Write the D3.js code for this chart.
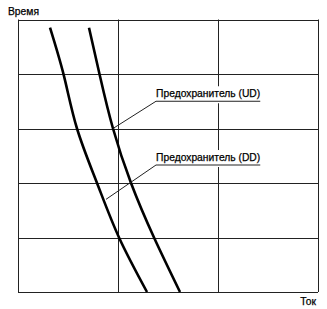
<!DOCTYPE html>
<html lang="en">
<head>
	<meta charset="UTF-8">
	<script src="https://d3js.org/d3.v7.min.js"></script>
	<style>
		body { margin: 0; background: white; }
		svg { display: block; }
		text { font-family: "Liberation Sans", Arial, sans-serif; font-size: 10.3px; fill: #000; stroke: #000; stroke-width: 0.25px; }
	</style>
</head>
<body>
	<div id="chart"></div>
	<script>
		// grid: 3 current columns, 5 time rows
		const xTicks = [0, 1, 2, 3];
		const yTicks = [0, 1, 2, 3, 4, 5];

		// curve samples (grid units)
		const timeLevels = [4.85, 3.96, 3, 2, 1, 0];
		const currentDD = [0.32, 0.46, 0.59, 0.79, 1.01, 1.29];
		const currentUD = [0.71, 0.82, 0.95, 1.13, 1.36, 1.62];

		// labels: text, text start, underline level, leader target on curve
		const labelNames = ["Предохранитель (UD)", "Предохранитель (DD)"];
		const labelX = [1.38, 1.38];
		const labelY = [3.5, 2.33];
		const targetX = [0.95, 0.88];
		const targetY = [3.0, 1.7];

		const width = 327, height = 309;
		const svg = d3.select("#chart").append("svg")
			.attr("width", width)
			.attr("height", height);

		const x = d3.scaleLinear().domain([0, 3]).range([18, 318]);
		const y = d3.scaleLinear().domain([0, 5]).range([292, 19.5]);

		/*---------------- grid ----------------*/
		const grid = svg.append("g").attr("stroke", "#222").attr("stroke-width", 1);
		grid.selectAll("line.v").data(xTicks).enter().append("line")
			.attr("class", "v")
			.attr("x1", d => Math.round(x(d)) + 0.5).attr("x2", d => Math.round(x(d)) + 0.5)
			.attr("y1", y(0)).attr("y2", y(5));
		grid.selectAll("line.h").data(yTicks).enter().append("line")
			.attr("class", "h")
			.attr("y1", d => Math.round(y(d)) + 0.5).attr("y2", d => Math.round(y(d)) + 0.5)
			.attr("x1", x(0)).attr("x2", x(3));

		/*---------------- curves ----------------*/
		const line = d3.line()
			.x(d => x(d[0]))
			.y(d => y(d[1]))
			.curve(d3.curveNatural);

		[currentDD, currentUD].forEach(s => {
			svg.append("path")
				.datum(s.map((v, i) => [v, timeLevels[i]]))
				.attr("d", line)
				.attr("fill", "none")
				.attr("stroke", "#000")
				.attr("stroke-width", 2.6);
		});

		/*---------------- labels ----------------*/
		labelNames.forEach((name, i) => {
			const g = svg.append("g");
			const bg = g.append("rect").attr("fill", "white");
			const t = g.append("text")
				.attr("x", x(labelX[i]))
				.attr("y", y(labelY[i]) - 4)
				.text(name);
			const w = t.node().getComputedTextLength();
			bg.attr("x", x(labelX[i]) - 2)
				.attr("y", y(labelY[i]) - 15)
				.attr("width", w + 4)
				.attr("height", 17);
			g.append("line")
				.attr("x1", x(labelX[i])).attr("x2", x(labelX[i]) + w)
				.attr("y1", y(labelY[i])).attr("y2", y(labelY[i]))
				.attr("stroke", "#222");
			g.append("line")
				.attr("x1", x(labelX[i])).attr("y1", y(labelY[i]))
				.attr("x2", x(targetX[i])).attr("y2", y(targetY[i]))
				.attr("stroke", "#222");
		});

		/*---------------- axis titles ----------------*/
		svg.append("text").attr("x", 8).attr("y", 15).text("Время");
		svg.append("text").attr("x", 316).attr("y", 305)
			.attr("text-anchor", "end").text("Ток");
	</script>
</body>
</html>
